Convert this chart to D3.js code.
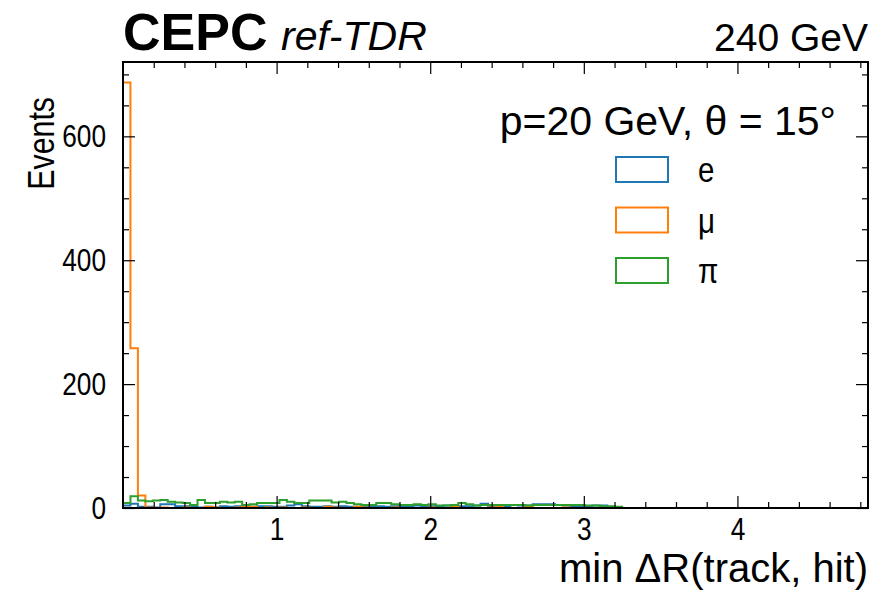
<!DOCTYPE html>
<html>
<head>
<meta charset="utf-8">
<script src="https://cdn.jsdelivr.net/npm/d3@7"></script>
<style>
  html, body { margin: 0; padding: 0; background: #fff; }
  svg { display: block; font-family: "Liberation Sans", Arial, sans-serif; }
</style>
</head>
<body>
<div id="chart"></div>
<script>
// histogram settings: 100 bins over [0, 4.85], only the occupied ones listed
const binWidth = 0.0485;
const xMax = 4.85;

// counts per bin (from bin 0 upward)
const countsE = [4, 7, 2, 2, 1, 6, 6, 3, 3, 2, 1, 2, 1, 3, 2, 3, 2, 2, 3, 3,
  2, 2, 4, 6, 3, 2, 2, 3, 2, 3, 2, 2, 3, 3, 3, 2, 3, 3, 3, 4,
  3, 3, 3, 4, 4, 3, 3, 4, 7, 3, 3, 3, 5, 4, 4, 6, 6, 6, 5, 4,
  3, 3, 3, 4, 4, 2];
const countsMu = [687, 258, 20, 1, 0, 1, 0, 0, 1, 0, 0, 2, 1, 0, 0, 1, 2, 2, 0, 1,
  0, 1, 0, 0, 1, 0, 0, 2, 1, 0, 0, 2, 1, 0, 0, 0, 1, 0, 0, 0,
  0, 1, 0, 0, 2, 0, 0, 0, 0, 1, 2, 0, 0, 0, 2, 0, 0, 0, 0, 1,
  0, 0, 0, 0, 1, 1];
const countsPi = [8, 19, 12, 11, 12, 13, 10, 9, 8, 5, 13, 8, 8, 10, 9, 10, 5, 6, 8, 8,
  8, 13, 10, 8, 8, 12, 12, 12, 9, 10, 8, 6, 5, 5, 8, 8, 6, 5, 5, 6,
  5, 6, 4, 4, 5, 8, 6, 4, 5, 5, 5, 5, 5, 5, 4, 5, 5, 5, 5, 5,
  5, 5, 4, 4, 3, 3, 2];

const seriesNames = ["e", "μ", "π"];
const seriesColors = ["#1f77b4", "#ff7f0e", "#2ca02c"];
const seriesCounts = [countsE, countsMu, countsPi];

const xTicks = [1, 2, 3, 4];
const xMinorTicks = d3.range(1, 25).map((i) => i * 0.2).filter((v) => v < xMax && Math.abs(v - Math.round(v)) > 1e-6);
const yTicks = [0, 200, 400, 600];
const yMinorTicks = [50, 100, 150, 250, 300, 350, 450, 500, 550, 650, 700];

const width = 884;
const height = 599;
const margin = { top: 62, right: 16, bottom: 91, left: 123 };
const condense = 0.82; // no condensed font installed, squeeze glyphs instead

const usableArea = {
  left: margin.left,
  right: width - margin.right,
  top: margin.top,
  bottom: height - margin.bottom,
};

const svg = d3
  .select("#chart")
  .append("svg")
  .attr("width", width)
  .attr("height", height)
  .attr("viewBox", `0 0 ${width} ${height}`);

const xScale = d3.scaleLinear().domain([0, xMax]).range([usableArea.left, usableArea.right]);
const yScale = d3.scaleLinear().domain([0, 720]).range([usableArea.bottom, usableArea.top]);

// squeeze text horizontally around its anchor point
function narrow(sel) {
  sel.each(function () {
    const t = d3.select(this);
    const x = +t.attr("x") || 0;
    const y = +t.attr("y") || 0;
    const prev = t.attr("transform") || "";
    t.attr("x", 0).attr("y", 0)
      .attr("transform", `${prev} translate(${x},${y}) scale(${condense},1)`);
  });
}

// step histograms
const stepLine = d3
  .line()
  .x((d) => xScale(d[0]))
  .y((d) => yScale(d[1]))
  .curve(d3.curveStepAfter);

function histPoints(counts) {
  const pts = [[0, 0]];
  counts.forEach((c, i) => pts.push([i * binWidth, c]));
  pts.push([counts.length * binWidth, counts[counts.length - 1]]);
  pts.push([counts.length * binWidth, 0]);
  return pts;
}

const hists = svg.append("g").attr("class", "hists");
seriesCounts.forEach((counts, i) => {
  hists
    .append("path")
    .attr("d", stepLine(histPoints(counts)))
    .attr("fill", "none")
    .attr("stroke", seriesColors[i])
    .attr("stroke-width", 2);
});

// ticks on all four sides, pointing inward
function styleAxis(g) {
  g.attr("font-family", null).attr("font-size", null);
  g.select(".domain").remove();
  g.selectAll("line").attr("stroke", "#000").attr("stroke-width", 1.2);
  g.selectAll("text")
    .attr("font-size", 32)
    .attr("fill", "#000")
    .call(narrow);
}

svg.append("g")
  .attr("transform", `translate(0, ${usableArea.bottom})`)
  .call(d3.axisBottom(xScale).tickValues(xTicks).tickSizeInner(-12).tickSizeOuter(0).tickPadding(9).tickFormat(d3.format("d")))
  .call(styleAxis);
svg.append("g")
  .attr("transform", `translate(0, ${usableArea.bottom})`)
  .call(d3.axisBottom(xScale).tickValues(xMinorTicks).tickSizeInner(-6).tickSizeOuter(0).tickFormat(""))
  .call(styleAxis);
svg.append("g")
  .attr("transform", `translate(0, ${usableArea.top})`)
  .call(d3.axisTop(xScale).tickValues(xTicks).tickSizeInner(-12).tickSizeOuter(0).tickFormat(""))
  .call(styleAxis);
svg.append("g")
  .attr("transform", `translate(0, ${usableArea.top})`)
  .call(d3.axisTop(xScale).tickValues(xMinorTicks).tickSizeInner(-6).tickSizeOuter(0).tickFormat(""))
  .call(styleAxis);

svg.append("g")
  .attr("transform", `translate(${usableArea.left}, 0)`)
  .call(d3.axisLeft(yScale).tickValues(yTicks).tickSizeInner(-12).tickSizeOuter(0).tickPadding(17))
  .call(styleAxis);
svg.append("g")
  .attr("transform", `translate(${usableArea.left}, 0)`)
  .call(d3.axisLeft(yScale).tickValues(yMinorTicks).tickSizeInner(-6).tickSizeOuter(0).tickFormat(""))
  .call(styleAxis);
svg.append("g")
  .attr("transform", `translate(${usableArea.right}, 0)`)
  .call(d3.axisRight(yScale).tickValues(yTicks).tickSizeInner(-12).tickSizeOuter(0).tickFormat(""))
  .call(styleAxis);
svg.append("g")
  .attr("transform", `translate(${usableArea.right}, 0)`)
  .call(d3.axisRight(yScale).tickValues(yMinorTicks).tickSizeInner(-6).tickSizeOuter(0).tickFormat(""))
  .call(styleAxis);

// frame
svg.append("rect")
  .attr("x", usableArea.left)
  .attr("y", usableArea.top)
  .attr("width", usableArea.right - usableArea.left)
  .attr("height", usableArea.bottom - usableArea.top)
  .attr("fill", "none")
  .attr("stroke", "#000")
  .attr("stroke-width", 2);

// axis titles
svg.append("text")
  .attr("x", usableArea.right)
  .attr("y", 582)
  .attr("text-anchor", "end")
  .attr("font-size", 40)
  .text("min ΔR(track, hit)");

svg.append("text")
  .attr("transform", "translate(54, 97) rotate(-90)")
  .attr("text-anchor", "end")
  .attr("font-size", 37)
  .text("Events")
  .call(narrow);

// header
svg.append("text")
  .attr("x", usableArea.left)
  .attr("y", 50)
  .attr("font-size", 52)
  .attr("font-weight", "bold")
  .text("CEPC");
svg.append("text")
  .attr("x", 281)
  .attr("y", 50)
  .attr("font-size", 41)
  .attr("font-style", "italic")
  .text("ref-TDR");
svg.append("text")
  .attr("x", usableArea.right)
  .attr("y", 51)
  .attr("text-anchor", "end")
  .attr("font-size", 39)
  .text("240 GeV");

// legend
const legend = svg.append("g").attr("class", "legend");
legend.append("text")
  .attr("x", 836)
  .attr("y", 135)
  .attr("text-anchor", "end")
  .attr("font-size", 41)
  .text("p=20 GeV, θ = 15°");

seriesNames.forEach((name, i) => {
  const y0 = 157 + i * 50.5;
  legend.append("rect")
    .attr("x", 616)
    .attr("y", y0)
    .attr("width", 52)
    .attr("height", 25)
    .attr("fill", "none")
    .attr("stroke", seriesColors[i])
    .attr("stroke-width", 2);
  legend.append("text")
    .attr("x", 698)
    .attr("y", y0 + 12.5)
    .attr("dy", "0.35em")
    .attr("font-size", 36)
    .text(name)
    .call(narrow);
});
</script>
</body>
</html>
